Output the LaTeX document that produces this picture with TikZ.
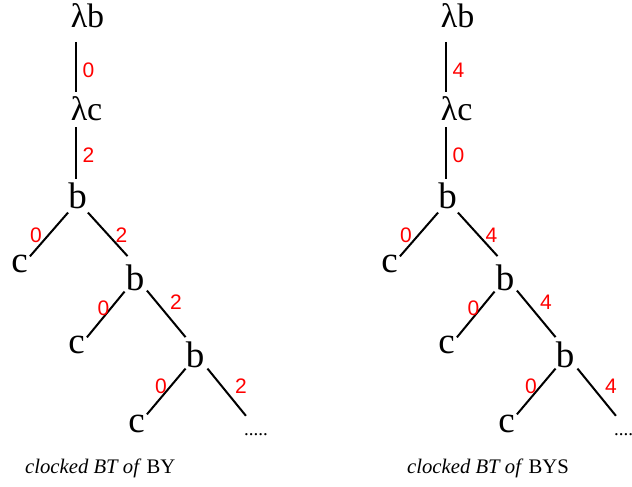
\documentclass[tikz,border=0pt]{standalone}
\usepackage{fontspec}
\setmainfont{Liberation Serif}
\newfontfamily\lblfont{Liberation Sans}
\begin{document}
\begin{tikzpicture}[x=1pt,y=-1pt,
  lam/.style={font=\fontsize{34}{34}\selectfont, inner sep=0pt, anchor=base},
  tn/.style={font=\fontsize{37}{37}\selectfont, inner sep=0pt, anchor=base},
  lbl/.style={font=\lblfont\fontsize{21}{21}\selectfont, text=red, inner sep=0pt},
  captxt/.style={font=\fontsize{20.7}{20.7}\selectfont, inner sep=0pt, anchor=base west},
  dotsn/.style={font=\fontsize{19}{19}\selectfont, inner sep=0pt, anchor=base},
  vline/.style={draw=black, line width=1.3pt},
  dline/.style={draw=black, line width=2pt}]
\useasboundingbox (0,0) rectangle (632,487);
\clip (0,0) rectangle (632,487);
\foreach \dx/\sfx/\va/\vb/\vc in {0/L/0/2/2, 370/R/4/0/4}{
\begin{scope}[xshift=\dx pt]
  \node[lam] (lb\sfx) at (79,28) {λ\rlap{b}};
  \node[lam] (lc\sfx) at (79,120) {λ\rlap{c}};
  \node[tn] (bA\sfx) at (77.5,208) {b};
  \node[tn] (cA\sfx) at (19.5,272) {c};
  \node[tn] (bB\sfx) at (135,290) {b};
  \node[tn] (cB\sfx) at (76.5,353) {c};
  \node[tn] (bC\sfx) at (195,367) {b};
  \node[tn] (cC\sfx) at (136.5,432) {c};
  \node[dotsn] (d\sfx) at (256,435) {.....};
  \draw[vline] ([xshift=-3pt,yshift=-14pt]lb\sfx.base) -- ([xshift=-3pt,yshift=4pt]lc\sfx.north);
  \draw[vline] ([xshift=-3pt,yshift=-7pt]lc\sfx.base) -- ([xshift=-1.5pt,yshift=3pt]bA\sfx.north);
  \draw[dline] ([yshift=-4pt]bA\sfx.south west) -- ([xshift=2pt,yshift=-2pt]cA\sfx.north east);
  \draw[dline] ([xshift=1pt,yshift=-4pt]bA\sfx.south east) -- ([xshift=2pt,yshift=8pt]bB\sfx.north west);
  \draw[dline] ([xshift=-1pt,yshift=-1pt]bB\sfx.south west) -- ([xshift=2pt,yshift=-2pt]cB\sfx.north east);
  \draw[dline] ([xshift=2.5pt]bB\sfx.south east) -- ([yshift=4pt]bC\sfx.north west);
  \draw[dline] ([yshift=-1pt]bC\sfx.south west) -- ([xshift=2pt]cC\sfx.north east);
  \draw[dline] ([xshift=3pt,yshift=-1pt]bC\sfx.south east) -- ([xshift=2pt,yshift=17pt]d\sfx.north west);
  \node[lbl] (la\sfx) at (88.5,70.5) {\va};
  \node[lbl] (lbb\sfx) at (88.5,155.5) {\vb};
  \node[lbl] (lcc\sfx) at (36,235) {0};
  \node[lbl] (ld\sfx) at (121.5,235.5) {\vc};
  \node[lbl] (le\sfx) at (103.5,308.5) {0};
  \node[lbl] (lf\sfx) at (176,302.5) {\vc};
  \node[lbl] (lg\sfx) at (161,386.5) {0};
  \node[lbl] (lh\sfx) at (241,386) {\vc};
\end{scope}
}
\node[captxt] (capL) at (25,473) {\textit{clocked BT of} BY};
\node[captxt] (capR) at (407,473) {\textit{clocked BT of} BYS};
\end{tikzpicture}
\end{document}
